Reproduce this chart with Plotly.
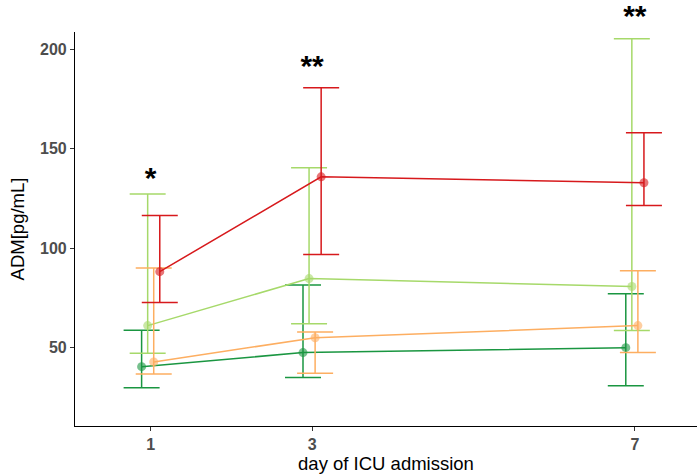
import plotly.graph_objects as go

days = [1, 3, 7]
tick_labels = ["1", "3", "7"]
series_names = ["Group A", "Group B", "Group C", "Group D"]
series_colors = ["#1a9641", "#a6d96a", "#fdae61", "#d7191c"]
dodge = [-0.1125, -0.0375, 0.0375, 0.1125]

mean_a = [40.2, 47.3, 49.8]
upper_a = [58.6, 81.4, 77.0]
lower_a = [29.6, 34.7, 30.6]

mean_b = [60.9, 84.6, 80.6]
upper_b = [127.2, 140.5, 205.5]
lower_b = [47.0, 61.8, 58.4]

mean_c = [42.6, 54.8, 60.9]
upper_c = [90.0, 57.7, 88.5]
lower_c = [36.5, 36.9, 47.3]

mean_d = [88.1, 135.9, 132.9]
upper_d = [116.4, 180.8, 158.1]
lower_d = [72.5, 96.7, 121.4]

sig_labels = ["*", "**", "**"]
sig_y = [126.3, 182.8, 208.1]

means = [mean_a, mean_b, mean_c, mean_d]
uppers = [upper_a, upper_b, upper_c, upper_d]
lowers = [lower_a, lower_b, lower_c, lower_d]

fig = go.Figure()
for name, col, off, m, u, lo in zip(series_names, series_colors, dodge, means, uppers, lowers):
    xs = [d + off for d in days]
    fig.add_trace(go.Scatter(
        x=xs, y=m, name=name, mode="lines",
        line=dict(color=col, width=1.5),
        error_y=dict(type="data", symmetric=False,
                     array=[a - b for a, b in zip(u, m)],
                     arrayminus=[b - c for b, c in zip(m, lo)],
                     color=col, thickness=1.5, width=18),
        showlegend=False, hoverinfo="skip",
    ))
    fig.add_trace(go.Scatter(
        x=xs, y=m, name=name, mode="markers",
        marker=dict(color=col, size=9, opacity=0.6),
        showlegend=False,
    ))

fig.add_trace(go.Scatter(
    x=days, y=sig_y, text=sig_labels, mode="text", textposition="top center",
    textfont=dict(family="Liberation Sans, Arial, sans-serif", size=30, color="black", weight="bold"),
    cliponaxis=False, showlegend=False, hoverinfo="skip",
))

tickfont = dict(family="Liberation Sans, Arial, sans-serif", size=16, color="#4d4d4d", weight="bold")
titlefont = dict(family="Liberation Sans, Arial, sans-serif", size=18.5, color="black")

fig.update_layout(
    width=697, height=474,
    margin=dict(l=75, r=0, t=32, b=48, autoexpand=False),
    plot_bgcolor="white", paper_bgcolor="white",
    xaxis=dict(range=[0.062, 7.77], tickvals=days, ticktext=tick_labels, automargin=False,
               showgrid=False, zeroline=False, showline=True, linecolor="black", linewidth=1.2,
               ticks="outside", ticklen=4, tickcolor="#333333", tickwidth=1.2,
               tickfont=tickfont,
               title=dict(text="day of ICU admission", font=titlefont, standoff=2)),
    yaxis=dict(range=[10.3, 208.9], tickvals=[50, 100, 150, 200], automargin=False,
               showgrid=False, zeroline=False, showline=True, linecolor="black", linewidth=1.2,
               ticks="outside", ticklen=4, tickcolor="#333333", tickwidth=1.2,
               tickfont=tickfont,
               title=dict(text="ADM[pg/mL]", font=titlefont, standoff=10)),
)

fig.write_html("out.html", config={"displayModeBar": False},
               post_script="document.body.style.margin='0';")
